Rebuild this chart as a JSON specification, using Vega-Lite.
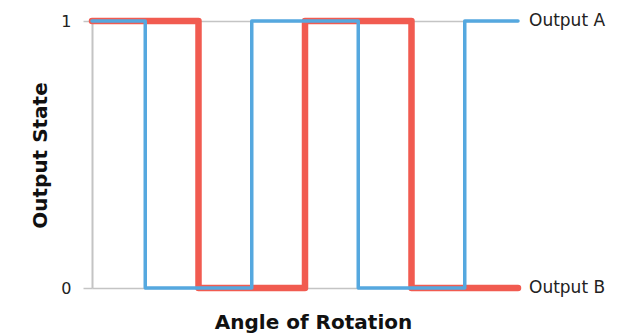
{
  "$schema": "https://vega.github.io/schema/vega-lite/v6.json",
  "width": 426,
  "height": 267,
  "autosize": "none",
  "padding": {"left": 92, "top": 21, "right": 116, "bottom": 47},
  "background": "white",
  "config": {"view": {"stroke": null}, "font": "DejaVu Sans"},
  "data": {
    "values": [
      {"series": "Output A", "angle": 0, "state": 1},
      {"series": "Output A", "angle": 1, "state": 0},
      {"series": "Output A", "angle": 3, "state": 1},
      {"series": "Output A", "angle": 5, "state": 0},
      {"series": "Output A", "angle": 7, "state": 1},
      {"series": "Output A", "angle": 8, "state": 1},
      {"series": "Output B", "angle": 0, "state": 1},
      {"series": "Output B", "angle": 2, "state": 0},
      {"series": "Output B", "angle": 4, "state": 1},
      {"series": "Output B", "angle": 6, "state": 0},
      {"series": "Output B", "angle": 8, "state": 0}
    ]
  },
  "encoding": {
    "x": {
      "field": "angle", "type": "quantitative",
      "scale": {"domain": [0, 8], "nice": false, "zero": false},
      "axis": {
        "title": "Angle of Rotation", "labels": false, "ticks": false, "domain": false, "grid": false,
        "titleFont": "DejaVu Sans", "titleFontSize": 20, "titleFontWeight": "bold", "titleColor": "#111111",
        "titleX": 221, "titleY": 40, "titleBaseline": "alphabetic"
      }
    },
    "y": {
      "field": "state", "type": "quantitative",
      "scale": {"domain": [0, 1], "nice": false},
      "axis": {
        "title": "Output State", "values": [0, 1], "format": "d",
        "domain": true, "domainColor": "#C4C4C4", "domainWidth": 2,
        "grid": true, "gridColor": "#C4C4C4", "gridWidth": 1.5,
        "ticks": true, "tickSize": 9, "tickColor": "#C4C4C4", "tickWidth": 1.5,
        "labelFont": "DejaVu Sans", "labelFontSize": 16, "labelColor": "#222222", "labelPadding": 12,
        "titleFont": "DejaVu Sans", "titleFontSize": 20, "titleFontWeight": "bold", "titleColor": "#111111",
        "titleX": -42, "titleY": 134, "titleBaseline": "bottom", "titleAngle": -90, "titleAlign": "center"
      }
    }
  },
  "layer": [
    {
      "transform": [{"filter": "datum.series === 'Output B'"}],
      "mark": {"type": "line", "interpolate": "step-after", "color": "#F15B50", "strokeWidth": 6.5, "strokeCap": "round", "strokeJoin": "round"}
    },
    {
      "transform": [{"filter": "datum.series === 'Output A'"}],
      "mark": {"type": "line", "interpolate": "step-after", "color": "#55A8DF", "strokeWidth": 3.5, "strokeCap": "round", "strokeJoin": "round"}
    },
    {
      "transform": [{"filter": "datum.angle === 8"}],
      "mark": {"type": "text", "align": "left", "baseline": "middle", "dx": 11, "fontSize": 17, "font": "DejaVu Sans", "color": "#222222"},
      "encoding": {"text": {"field": "series", "type": "nominal"}}
    }
  ]
}
